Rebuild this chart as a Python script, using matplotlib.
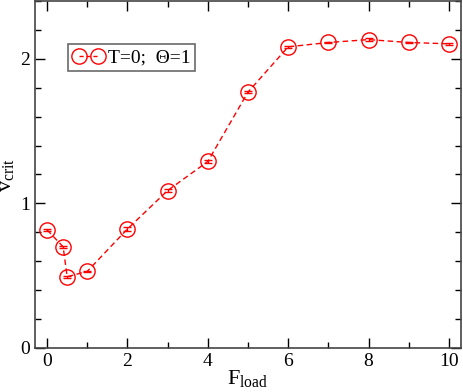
import matplotlib
matplotlib.use("Agg")
import matplotlib.pyplot as plt
from matplotlib.ticker import MultipleLocator
from matplotlib.lines import Line2D

plt.rcParams['font.family'] = ['Liberation Serif', 'DejaVu Serif']
plt.rcParams['mathtext.fontset'] = 'custom'
plt.rcParams['mathtext.rm'] = 'Liberation Serif'

f_load = [0, 0.4, 0.5, 1, 2, 3, 4, 5, 6, 7, 8, 9, 10]
v_crit = [0.817, 0.70, 0.493, 0.53, 0.823, 1.089, 1.29, 1.77, 2.083, 2.113, 2.133, 2.113, 2.104]
v_err = [0.008, 0.008, 0.006, 0.006, 0.012, 0.01, 0.008, 0.008, 0.006, 0.006, 0.008, 0.006, 0.006]

fig = plt.figure(figsize=(4.63, 3.92), dpi=100)
ax = fig.add_axes([35/463, 1 - 348/392, (461-35)/463, (348-1)/392])

ax.errorbar(f_load, v_crit, yerr=v_err, color='red', ls='--', lw=1.0,
            marker='o', ms=11, mfc='none', mec='red', mew=1.0,
            capsize=3, elinewidth=1.0, capthick=1.5, dashes=(4, 2.5))

ax.set_xlim(-0.3, 10.3)
ax.set_ylim(0, 2.4)
ax.xaxis.set_major_locator(MultipleLocator(2))
ax.xaxis.set_minor_locator(MultipleLocator(1))
ax.yaxis.set_major_locator(MultipleLocator(1))
ax.yaxis.set_minor_locator(MultipleLocator(0.2))
ax.tick_params(which='both', direction='in', top=True, right=True, labelsize=14, colors='black')
ax.tick_params(which='major', length=7, width=1.0)
ax.tick_params(which='minor', length=4, width=1.0)
for s in ax.spines.values():
    s.set_linewidth(1.2)
    s.set_color('#444444')

ax.set_xlabel(r'F$_{\mathrm{load}}$', fontsize=16, labelpad=-1)
ax.set_ylabel(r'v$_{\mathrm{crit}}$', fontsize=16, labelpad=2)

handle = Line2D([], [], color='red', ls='--', lw=1.0, dashes=(3, 2),
                marker='o', ms=11, mfc='none', mec='red', mew=1.0)
leg = ax.legend([handle], ['T=0;  \u0398=1'], loc='upper left',
                bbox_to_anchor=((68-35)/426, 1 - (44-1)/347),
                numpoints=2, fontsize=14, frameon=True, fancybox=False,
                edgecolor='#444444', handlelength=1.6, handletextpad=0.2,
                borderpad=0.25, borderaxespad=0)
leg.get_frame().set_linewidth(1.2)

fig.savefig('out.png', dpi=100)
